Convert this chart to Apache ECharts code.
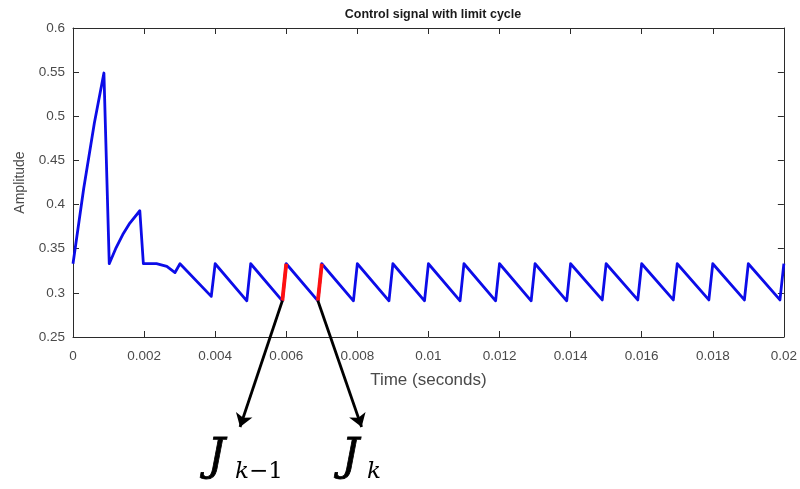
<!DOCTYPE html>
<html>
<head>
<meta charset="utf-8">
<script src="https://cdn.jsdelivr.net/npm/echarts@6/dist/echarts.min.js"></script>
<style>
html,body{margin:0;padding:0;background:#fff;}
#chart{width:800px;height:489px;}
</style>
</head>
<body>
<div id="chart"></div>
<script>
// ---- data ----
var titleText = 'Control signal with limit cycle';
var xName = 'Time (seconds)';
var yName = 'Amplitude';
var xTicks = [0, 0.002, 0.004, 0.006, 0.008, 0.01, 0.012, 0.014, 0.016, 0.018, 0.02];
var yTicks = [0.25, 0.3, 0.35, 0.4, 0.45, 0.5, 0.55, 0.6];

// control signal: time (s)
var timeS = [0, 0.0003, 0.0006, 0.00087, 0.00102, 0.0012, 0.0014, 0.0016, 0.00188, 0.00198,
  0.00235, 0.00264, 0.00287, 0.00301,
  0.00389, 0.004, 0.00489, 0.005, 0.00589, 0.006, 0.00689, 0.007,
  0.00789, 0.008, 0.00889, 0.009, 0.00989, 0.010, 0.01089, 0.011,
  0.01189, 0.012, 0.01289, 0.013, 0.01389, 0.014, 0.01489, 0.015,
  0.01589, 0.016, 0.01689, 0.017, 0.01789, 0.018, 0.01889, 0.019,
  0.01989, 0.020];
// control signal: amplitude
var ampV = [0.333, 0.418, 0.492, 0.549, 0.333, 0.350, 0.366, 0.379, 0.393, 0.333,
  0.333, 0.330, 0.323, 0.333,
  0.296, 0.333, 0.291, 0.333, 0.291, 0.333, 0.291, 0.333,
  0.291, 0.333, 0.291, 0.333, 0.291, 0.333, 0.291, 0.333,
  0.291, 0.333, 0.291, 0.333, 0.291, 0.333, 0.292, 0.333,
  0.292, 0.333, 0.292, 0.333, 0.292, 0.333, 0.292, 0.333,
  0.292, 0.333];

// highlighted cost segments J_{k-1}, J_k
var seg1T = [0.00589, 0.006];
var seg1V = [0.291, 0.333];
var seg2T = [0.00689, 0.007];
var seg2V = [0.291, 0.333];

// annotation arrows (data units): start at the lower end of each red segment
var arrowEndT = [0.0047, 0.00812];
var arrowEndV = [0.148, 0.148];

var chart = echarts.init(document.getElementById('chart'), null, {renderer: 'canvas'});

function fmt(v) { return String(Number(v.toFixed(4))); }
function zip(a, b) { return a.map(function (t, i) { return [t, b[i]]; }); }

var axisColor = '#2b2b2b';
var labelColor = '#4a4a4a';
var FONT = 'Liberation Sans, Arial, sans-serif';

var option = {
  backgroundColor: '#ffffff',
  animation: false,
  title: {
    text: titleText,
    left: 428, top: 3, textAlign: 'center',
    textStyle: {fontFamily: FONT, fontSize: 12.5, fontWeight: 'bold', color: '#1a1a1a'}
  },
  grid: {left: 73, right: 16, top: 28, bottom: 152, containLabel: false},
  xAxis: [{
    type: 'value', min: xTicks[0], max: xTicks[xTicks.length - 1], interval: 0.002,
    position: 'bottom',
    name: xName, nameLocation: 'middle', nameGap: 35,
    nameTextStyle: {fontFamily: FONT, fontSize: 17, color: labelColor},
    axisLine: {show: true, onZero: false, lineStyle: {color: axisColor, width: 1}},
    axisTick: {show: true, inside: true, length: 6, lineStyle: {color: axisColor}},
    axisLabel: {formatter: fmt, margin: 12, fontFamily: FONT, fontSize: 13.5, color: labelColor},
    splitLine: {show: false}
  }, {
    type: 'value', min: xTicks[0], max: xTicks[xTicks.length - 1], interval: 0.002,
    position: 'top',
    axisLine: {show: true, onZero: false, lineStyle: {color: axisColor, width: 1}},
    axisTick: {show: true, inside: true, length: 6, lineStyle: {color: axisColor}},
    axisLabel: {show: false}, splitLine: {show: false}
  }],
  yAxis: [{
    type: 'value', min: yTicks[0], max: yTicks[yTicks.length - 1], interval: 0.05,
    position: 'left',
    name: yName, nameLocation: 'middle', nameGap: 46, nameRotate: 90,
    nameTextStyle: {fontFamily: FONT, fontSize: 14, color: labelColor},
    axisLine: {show: true, onZero: false, lineStyle: {color: axisColor, width: 1}},
    axisTick: {show: true, inside: true, length: 6, lineStyle: {color: axisColor}},
    axisLabel: {formatter: fmt, margin: 8, fontFamily: FONT, fontSize: 13.5, color: labelColor},
    splitLine: {show: false}
  }, {
    type: 'value', min: yTicks[0], max: yTicks[yTicks.length - 1], interval: 0.05,
    position: 'right',
    axisLine: {show: true, onZero: false, lineStyle: {color: axisColor, width: 1}},
    axisTick: {show: true, inside: true, length: 6, lineStyle: {color: axisColor}},
    axisLabel: {show: false}, splitLine: {show: false}
  }],
  series: [{
    type: 'line', name: 'u', data: zip(timeS, ampV),
    showSymbol: false, symbol: 'none',
    lineStyle: {color: '#0c0ce8', width: 2.8, join: 'round'},
    z: 3
  }, {
    type: 'line', name: 'Jk-1', data: zip(seg1T, seg1V),
    showSymbol: false, symbol: 'none',
    lineStyle: {color: '#ff1010', width: 3.8}, z: 4
  }, {
    type: 'line', name: 'Jk', data: zip(seg2T, seg2V),
    showSymbol: false, symbol: 'none',
    lineStyle: {color: '#ff1010', width: 3.8}, z: 4
  }, {
    type: 'lines', coordinateSystem: 'cartesian2d', clip: false,
    symbol: ['none', 'arrow'], symbolSize: 13,
    lineStyle: {color: '#000000', width: 2.8, opacity: 1},
    data: [
      {coords: [[seg1T[0], seg1V[0]], [arrowEndT[0], arrowEndV[0]]]},
      {coords: [[seg2T[0], seg2V[0]], [arrowEndT[1], arrowEndV[1]]]}
    ],
    z: 5
  }],
  graphic: [
    {type: 'text', left: 207, top: 436, style: {text: 'J', font: 'italic 44px "DejaVu Serif"', fill: '#000', stroke: '#000', lineWidth: 0.8}},
    {type: 'text', left: 235, top: 461, style: {
      text: '{i|k}{u|\u22121}', fill: '#000',
      rich: {i: {font: 'italic 23px "DejaVu Serif"'}, u: {font: '23px "DejaVu Serif"'}}
    }},
    {type: 'text', left: 341, top: 436, style: {text: 'J', font: 'italic 44px "DejaVu Serif"', fill: '#000', stroke: '#000', lineWidth: 0.8}},
    {type: 'text', left: 367, top: 461, style: {text: 'k', font: 'italic 23px "DejaVu Serif"', fill: '#000'}}
  ]
};
chart.setOption(option);
</script>
</body>
</html>
